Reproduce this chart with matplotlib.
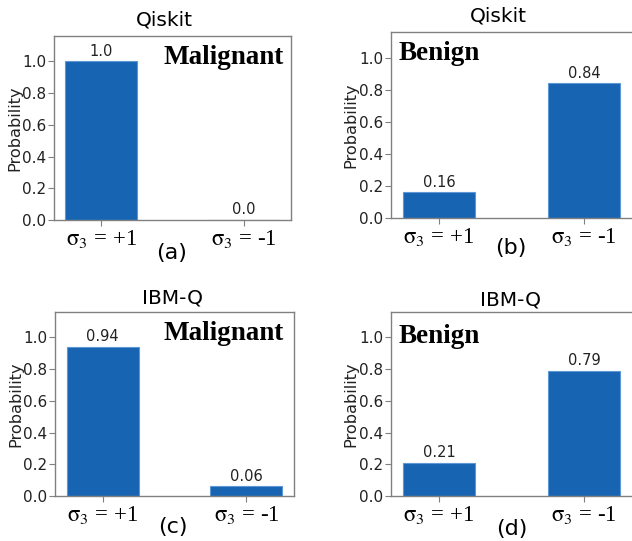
import matplotlib
matplotlib.use('Agg')
import matplotlib.pyplot as plt

plt.rcParams['mathtext.fontset'] = 'stix'
plt.rcParams['font.family'] = 'DejaVu Sans'

W, H = 632, 541

categories = [r'$\mathrm{\sigma}_3$ = +1', r'$\mathrm{\sigma}_3$ = -1']
titles = ['Qiskit', 'Qiskit', 'IBM-Q', 'IBM-Q']
classes = ['Malignant', 'Benign', 'Malignant', 'Benign']
panel_tags = ['(a)', '(b)', '(c)', '(d)']
qiskit_malignant = [1.0, 0.0]
qiskit_benign = [0.16, 0.84]
ibmq_malignant = [0.94, 0.06]
ibmq_benign = [0.21, 0.79]
series = [qiskit_malignant, qiskit_benign, ibmq_malignant, ibmq_benign]
yticks = [0.0, 0.2, 0.4, 0.6, 0.8, 1.0]

bar_color = '#1764b3'
edge_color = '#5d97d6'
spine_color = '#808080'
text_color = '#222222'

fig = plt.figure(figsize=(W / 100, H / 100), dpi=100)


def fx(x):
    return x / W


def fy(y):
    return 1 - y / H


# axes boxes in pixels: left, top, right, bottom
boxes = [(54, 36, 291, 220), (391, 32, 632, 218), (55, 312, 294, 496), (391, 312, 632, 496)]
title_pos = [(164, 25), (498, 21), (173, 304), (510, 306)]
tag_pos = [(172, 253), (511, 248), (173, 527), (512, 529)]
# class label: (x, baseline y, ha)
class_pos = [(284, 64, 'right'), (399, 60, 'left'), (284, 340, 'right'), (399, 343, 'left')]
ylabel_right = [22, 358, 23, 358]

for i in range(4):
    l, t, r, b = boxes[i]
    ax = fig.add_axes([fx(l), fy(b), (r - l) / W, (b - t) / H])
    vals = series[i]
    ax.bar([0, 1], vals, width=0.5, color=bar_color, edgecolor=edge_color, linewidth=0.8)
    for xi, v in enumerate(vals):
        ax.annotate(str(v), (xi, v), xytext=(0, 2), textcoords='offset points',
                    ha='center', va='bottom', fontsize=10.5, color=text_color)
    ax.set_xlim(-0.33, 1.33)
    ax.set_ylim(0, 1.16)
    ax.set_yticks(yticks)
    ax.set_yticklabels([f'{v:.1f}' for v in yticks], fontsize=11, color=text_color)
    ax.set_xticks([0, 1])
    ax.set_xticklabels(categories, fontfamily='Liberation Serif', fontsize=16.5, color='black')
    ax.tick_params(axis='both', colors=spine_color, length=4, width=0.8)
    for lab in ax.get_yticklabels():
        lab.set_color(text_color)
    for lab in ax.get_xticklabels():
        lab.set_color('black')
    ax.tick_params(axis='x', pad=2)
    ax.tick_params(axis='y', pad=1.5)
    for sp in ax.spines.values():
        sp.set_color(spine_color)
        sp.set_linewidth(1.0)
    if i in (1, 3):
        ax.spines['right'].set_visible(False)
    ax.set_ylabel('Probability', fontsize=11.6, color=text_color)
    ax.yaxis.set_label_coords((ylabel_right[i] - l) / (r - l), 0.5)

    tx, ty = title_pos[i]
    fig.text(fx(tx), fy(ty), titles[i], ha='center', va='baseline', fontsize=14.5, color='black')
    gx, gy = tag_pos[i]
    fig.text(fx(gx), fy(gy), panel_tags[i], ha='center', va='center', fontsize=16, color='black')
    cx, cy, ha = class_pos[i]
    fig.text(fx(cx), fy(cy), classes[i], ha=ha, va='baseline', fontsize=19.5,
             fontfamily='Liberation Serif', fontweight='bold', color='black')

fig.savefig('out.png', dpi=100)
